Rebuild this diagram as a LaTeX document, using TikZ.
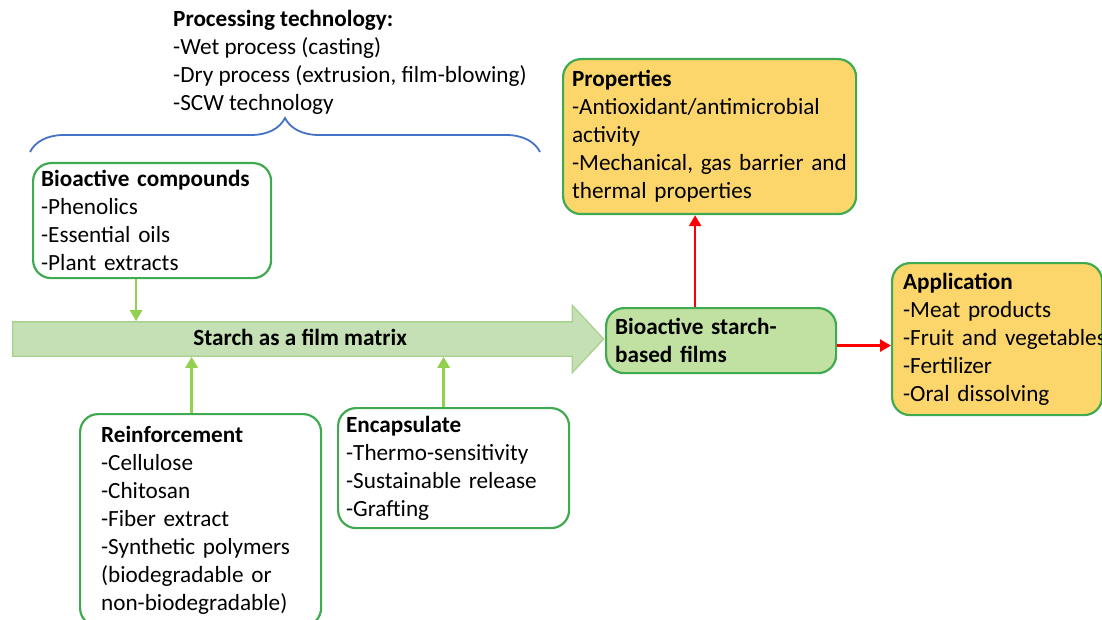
\documentclass[tikz,border=0pt]{standalone}
\usepackage{fontspec}
\setmainfont{Carlito}
\usetikzlibrary{arrows.meta,shapes.arrows,decorations.pathreplacing,positioning}

\definecolor{boxgreen}{RGB}{64,170,80}
\definecolor{feedgreen}{RGB}{146,208,80}
\definecolor{matrixfill}{RGB}{197,224,180}
\definecolor{matrixdraw}{RGB}{169,209,142}
\definecolor{filmfill}{RGB}{193,225,163}
\definecolor{goldfill}{RGB}{252,214,107}
\definecolor{bracecol}{RGB}{68,114,196}

\tikzset{
  every node/.style={font=\fontsize{23.2}{28}\selectfont},
  infobox/.style={draw=boxgreen, line width=2.2pt, rounded corners=18pt,
    align=left, inner ysep=0pt, anchor=north west},
  feed/.style={draw=feedgreen, line width=2.6pt, -{Triangle[length=11pt,width=12pt]}},
  result/.style={draw=red, line width=2.6pt, -{Triangle[length=11pt,width=12pt]}},
}

\begin{document}
\begin{tikzpicture}[x=1pt, y=-1pt]
  \useasboundingbox (0,0) rectangle (1102,620);

  % === processing routes and brace ===
  \node[anchor=north west, inner sep=0pt, align=left] (proc) at (173,10)
    {\textbf{Processing technology:}\\-Wet process (casting)\\-Dry process (extrusion, film-blowing)\\-SCW technology};
  \coordinate (braceL) at (30,152);
  \coordinate (braceR) at (540,152);
  \draw[bracecol, line width=1.8pt, decorate, decoration={brace, amplitude=34pt}] (braceL) -- (braceR);

  % === starch matrix arrow ===
  \node[single arrow, draw=matrixdraw, fill=matrixfill, line width=1.3pt,
        text height=17pt, text depth=4pt, inner xsep=0pt, inner ysep=6pt,
        minimum height=591pt, minimum width=66pt, single arrow head extend=16.5pt,
        single arrow tip angle=94, anchor=tail] (matrix) at (12,339)
    {\textbf{Starch as a film matrix}};

  % === inputs ===
  \node[infobox, text width=222pt, inner xsep=8pt, minimum height=115pt] (bioc) at (32,162)
    {\textbf{Bioactive compounds}\\-Phenolics\\-Essential oils\\-Plant extracts};
  \node[infobox, text width=199pt, inner xsep=21pt, minimum height=212pt] (reinf) at (79,413)
    {\textbf{Reinforcement}\\-Cellulose\\-Chitosan\\-Fiber extract\\-Synthetic polymers\\(biodegradable or\\non-biodegradable)};
  \node[infobox, text width=215pt, inner xsep=8pt, minimum height=120pt] (encap) at (337,407)
    {\textbf{Encapsulate}\\-Thermo-sensitivity\\-Sustainable release\\-Grafting};

  % === outputs ===
  \node[infobox, fill=filmfill, text width=212pt, inner xsep=9pt, minimum height=65pt] (films) at (605,307)
    {\textbf{Bioactive starch-}\\\textbf{based films}};
  \node[infobox, fill=goldfill, text width=275pt, inner xsep=9pt, minimum height=155pt] (props) at (562,58)
    {\textbf{Properties}\\-Antioxidant/antimicrobial\\activity\\-Mechanical, gas barrier and\\thermal properties};
  \node[infobox, fill=goldfill, text width=188pt, inner xsep=11pt, minimum height=152pt] (appl) at (891,262)
    {\textbf{Application}\\-Meat products\\\mbox{-Fruit and vegetables}\\-Fertilizer\\-Oral dissolving};

  % connectors
  \draw[feed] ([xshift=-16pt]bioc.south) -- ([xshift=-16pt]bioc.south |- matrix.north);
  \draw[feed] ([xshift=-9pt]reinf.north) -- ([xshift=-9pt]reinf.north |- matrix.south);
  \draw[feed] ([xshift=-10pt]encap.north) -- ([xshift=-10pt]encap.north |- matrix.south);
  \draw[result] ([xshift=-26pt]films.north) -- ([xshift=-26pt]films.north |- props.south);
  \draw[result] ([yshift=-5pt]films.east) -- ([yshift=-5pt]films.east -| appl.west);

\end{tikzpicture}
\end{document}
